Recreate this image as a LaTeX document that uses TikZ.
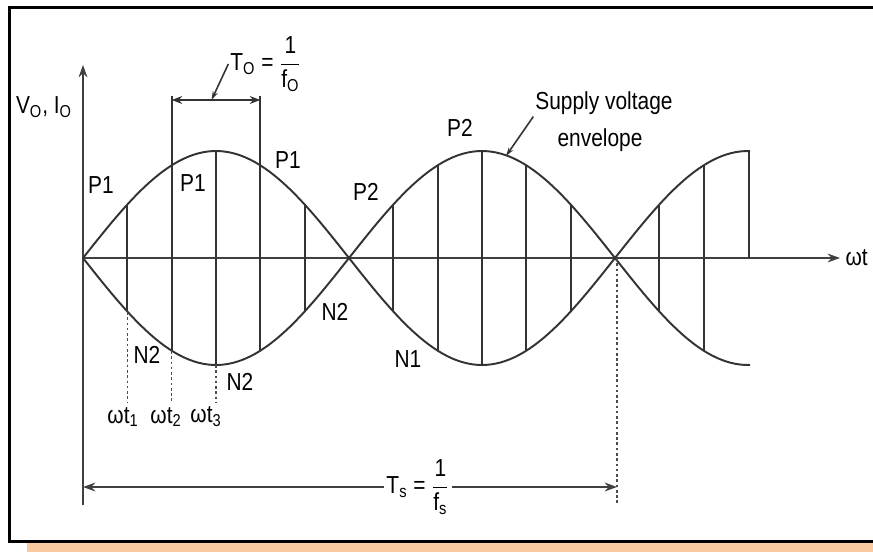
\documentclass[tikz,border=0pt]{standalone}
\usepackage{fontspec}
\setmainfont{Liberation Sans}[FakeStretch=0.85]
\usepackage{amsmath}
\usetikzlibrary{
    arrows.meta,
    positioning,
    calc
}
\definecolor{peach}{RGB}{251,201,160}
\tikzstyle{curve} = [
    line width=1.1pt,
    draw=black!80
]
\tikzstyle{chop} = [
    line width=1pt,
    draw=black!80
]
\tikzstyle{guide} = [
    dash pattern=on 1.5pt off 1.5pt,
    line width=0.6pt,
    draw=black!70
]
\tikzstyle{axis} = [
    -{Stealth[length=7pt,width=5pt]},
    line width=1pt,
    draw=black!75
]
\tikzstyle{dim} = [
    {Stealth[length=6pt,width=4.5pt]}-{Stealth[length=6pt,width=4.5pt]},
    line width=1pt,
    draw=black!80
]
\tikzstyle{lead} = [
    -{Stealth[length=5pt,width=3pt]},
    line width=0.9pt,
    draw=black!80
]
\tikzstyle{tag} = [
    font=\fontsize{14}{16}\selectfont,
    inner sep=1pt
]

\begin{document}
\begin{tikzpicture}[x=0.02cm, y=-0.02cm]
    \useasboundingbox (0,0) rectangle (873,552);
    \fill[white] (0,0) rectangle (873,552);

    % Frame and bottom strip
    \draw[line width=1.7pt] (880,7.5) -- (9.5,7.5) -- (9.5,541.5) -- (880,541.5);
    \fill[peach] (27,543) rectangle (873,552);

    % Axes
    \coordinate (O) at (83,258);
    \coordinate (ytop) at (83,65);
    \coordinate (ybot) at (83,505);
    \coordinate (xend) at (840,258);
    \draw[axis] (ybot) -- (ytop);
    \draw[axis] (O) -- (xend);
    \node[tag, right=2pt of xend] (wt) {ωt};
    \node[tag] (vo) at (44,107) {V\textsubscript{O}, I\textsubscript{O}};

    % Supply envelopes
    \draw[curve] plot[domain=83:750, samples=140] (\x, {258-107*sin((\x-83)/266*180)});
    \draw[curve] plot[domain=83:750, samples=140] (\x, {258+107*sin((\x-83)/266*180)});

    % Chopped output segments
    \foreach \k in {1,2,3,4,5,7,8,9,10,11,13,14} {
        \pgfmathsetmacro{\xx}{83+44.33*\k}
        \draw[chop] (\xx, {258-107*sin((\xx-83)/266*180)})
            -- (\xx, {258+107*sin((\xx-83)/266*180)});
    }
    \draw[chop] (749,258) -- (749,{258-107*sin((749-83)/266*180)});

    % Output period T0
    \coordinate (t0L) at (171.7,100);
    \coordinate (t0R) at (260.3,100);
    \draw[chop] (171.7,96) -- (171.7,166);
    \draw[chop] (260.3,96) -- (260.3,166);
    \draw[dim] (t0L) -- (t0R);
    \node[tag] (t0) at (266,64) {T\textsubscript{O} = $\dfrac{\text{1}}{\text{f}_\text{O}}$};
    \draw[lead] (t0.west) -- ($(t0L)!0.45!(t0R)$);

    % Envelope label
    \node[tag] (sv1) at (604,103) {Supply voltage};
    \node[tag] (sv2) at (600,140) {envelope};
    \coordinate (env) at (506,156);
    \draw[lead] (sv1.south west) -- (env);

    % Group labels
    \node[tag] (p1a) at (101,185) {P1};
    \node[tag] (p1b) at (193,183) {P1};
    \node[tag] (p1c) at (288,160) {P1};
    \node[tag] (p2a) at (366,192) {P2};
    \node[tag] (p2b) at (460,128) {P2};
    \node[tag] (n2a) at (147,355) {N2};
    \node[tag] (n2b) at (240,382) {N2};
    \node[tag] (n2c) at (335,312) {N2};
    \node[tag] (n1) at (408,359) {N1};

    % Firing instants
    \node[tag] (wt1) at (123,417) {ωt\textsubscript{1}};
    \node[tag] (wt2) at (166,417) {ωt\textsubscript{2}};
    \node[tag] (wt3) at (206,417) {ωt\textsubscript{3}};
    \draw[guide] (127.3,312) -- (127.3,402);
    \draw[guide] (171.7,351) -- (171.7,402);
    \draw[guide] (216,365) -- (216,402);

    % Supply period Ts
    \coordinate (tsL) at (83,487);
    \coordinate (tsR) at (617,487);
    \draw[guide] (617,258) -- (617,503);
    \node[tag] (ts) at (418,487) {T\textsubscript{s} = $\dfrac{\text{1}}{\text{f}_\text{s}}$};
    \draw[axis] (ts.west) -- (tsL);
    \draw[axis] (ts.east) -- (tsR);
\end{tikzpicture}
\end{document}
